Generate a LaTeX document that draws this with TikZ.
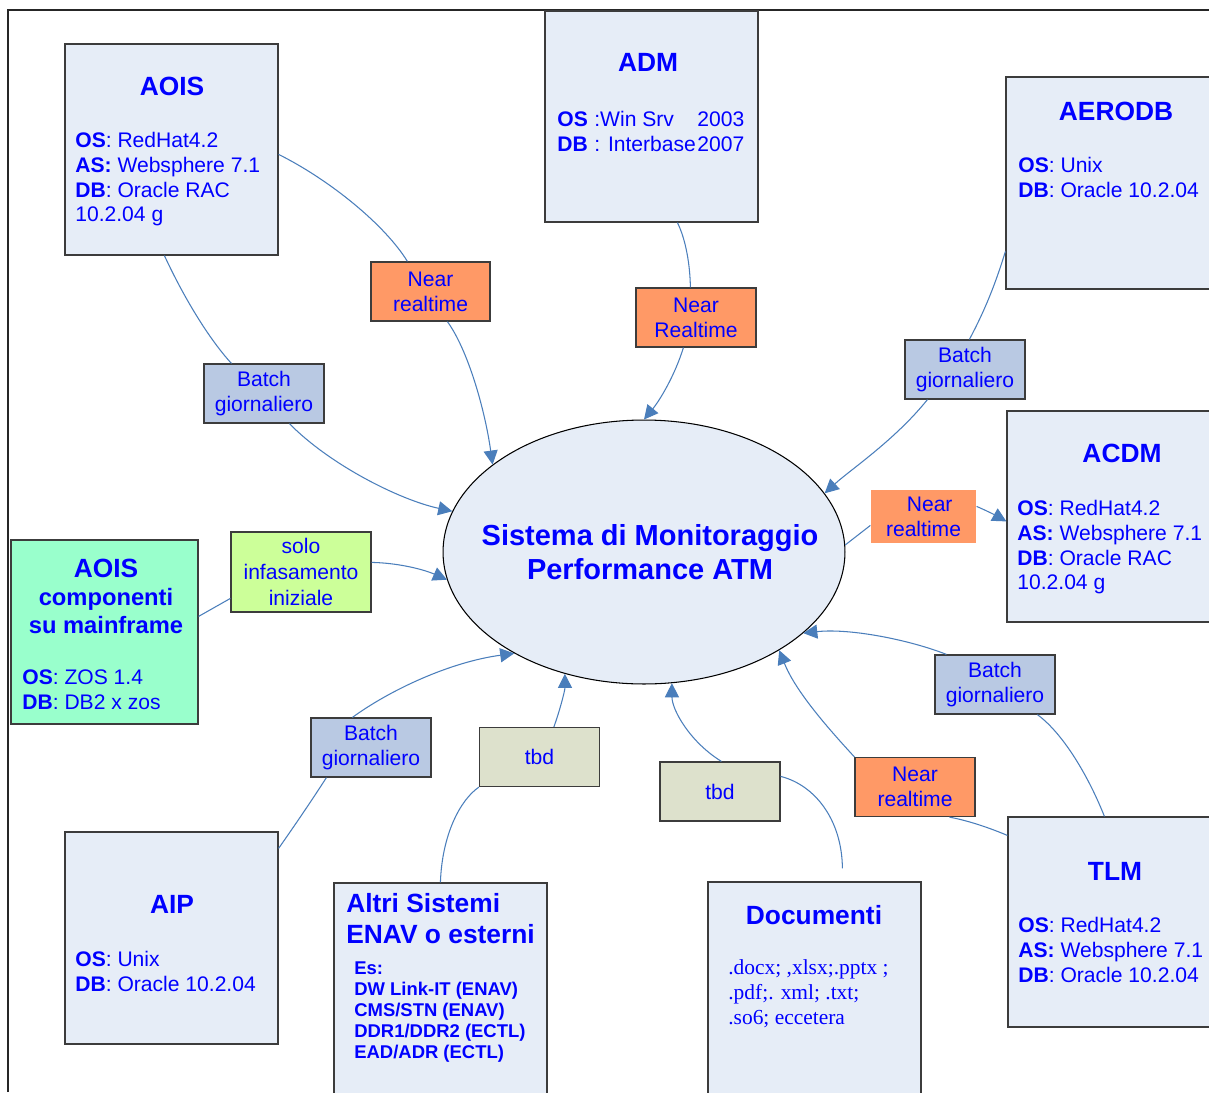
\documentclass[tikz,border=0pt]{standalone}
\usepackage{fontspec}
\setmainfont{Liberation Sans}
\newfontfamily\docserif{Liberation Serif}
\usetikzlibrary{arrows.meta,shapes.geometric,calc}
\definecolor{boxfill}{RGB}{230,237,247}
\definecolor{mffill}{RGB}{153,255,204}
\definecolor{orangefill}{RGB}{255,153,102}
\definecolor{batchfill}{RGB}{185,201,227}
\definecolor{solofill}{RGB}{204,255,153}
\definecolor{tbdfill}{RGB}{221,225,204}
\definecolor{linec}{RGB}{74,126,187}
\definecolor{txtblue}{RGB}{0,0,255}
\definecolor{bordc}{RGB}{60,60,60}
\begin{document}
\begin{tikzpicture}[x=0.02cm,y=-0.02cm,
  sysbox/.style={draw=bordc, line width=0.7pt, fill=boxfill, inner sep=0pt, minimum width=4.26cm, minimum height=4.22cm},
  lbl/.style={draw=bordc, line width=0.7pt, inner sep=0pt, minimum width=2.4cm, minimum height=1.18cm, align=center, text=txtblue, font=\fontsize{12}{14.2}\selectfont},
  nearlbl/.style={lbl, fill=orangefill},
  batchlbl/.style={lbl, fill=batchfill},
  tbdlbl/.style={lbl, fill=tbdfill},
  ttl/.style={text=txtblue, inner sep=0pt, font=\fontsize{15}{17.6}\bfseries\selectfont},
  body/.style={text=txtblue, inner sep=0pt, anchor=north west, align=left, font=\fontsize{12}{14.2}\selectfont},
  conn/.style={draw=linec, line width=0.6pt},
  arr/.style={conn, -{Triangle[length=8pt,width=8pt]}}
]
\clip (0,0) rectangle (1209,1092);
\fill[white] (0,0) rectangle (1209,1092);
% frame
\draw[black!85, line width=0.6pt] (8,1092) -- (8,10) -- (1209,10);

% system boxes
\node[sysbox] (aois) at (171.5,149.5) {};
\node[sysbox] (adm) at (651.5,116.5) {};
\node[sysbox, minimum height=4.24cm] (aerodb) at (1112.5,183) {};
\node[sysbox] (acdm) at (1113.5,516.5) {};
\node[sysbox, fill=mffill, minimum width=3.74cm, minimum height=3.68cm] (mf) at (104.5,632) {};
\node[sysbox, minimum height=4.24cm] (aip) at (171.5,938) {};
\node[sysbox, minimum height=4.24cm] (altri) at (440.5,989) {};
\node[sysbox, minimum height=4.24cm] (doc) at (814.5,988) {};
\node[sysbox, minimum height=4.2cm] (tlm) at (1114.5,922) {};

% central ellipse
\node[ellipse, draw=black, line width=0.6pt, fill=boxfill, inner sep=0pt, minimum width=8.04cm, minimum height=5.28cm] (core) at (644,552) {};
\node[text=txtblue, align=center, inner sep=0pt, font=\fontsize{16.5}{19.3}\bfseries\selectfont] (coretxt) at (650,552) {Sistema di Monitoraggio\\Performance ATM};

% titles
\node[ttl] (aoisT) at (172,86) {AOIS};
\node[ttl] (admT) at (648,62) {ADM};
\node[ttl] (aerodbT) at (1116,111) {AERODB};
\node[ttl] (acdmT) at (1122,453) {ACDM};
\node[ttl] (aipT) at (172,904) {AIP};
\node[ttl] (tlmT) at (1115,871) {TLM};
\node[ttl] (docT) at (814,915) {Documenti};
\node[ttl, anchor=base] (mfT1) at (106,577.5) {AOIS};
\node[ttl, anchor=base, font=\fontsize{13.5}{16}\bfseries\selectfont] (mfT2) at (106,605.5) {componenti};
\node[ttl, anchor=base, font=\fontsize{13.5}{16}\bfseries\selectfont] (mfT3) at (106,633.5) {su mainframe};
\node[ttl, anchor=north west, align=left] (altriT) at (346,893.5) {Altri Sistemi\\ENAV o esterni};

% bodies
\node[body] (aoisB) at (75,131.5) {\textbf{OS}: RedHat4.2\\\textbf{AS:} Websphere 7.1\\\textbf{DB}: Oracle RAC\\10.2.04 g};
\node[body, anchor=base west] (admOS) at (557,126.5) {\textbf{OS}};
\node[body, anchor=base west] (admOSv) at (594,126.5) {:Win Srv};
\node[body, anchor=base west] (admOSy) at (697,126.5) {2003};
\node[body, anchor=base west] (admDB) at (557,151.5) {\textbf{DB}};
\node[body, anchor=base west] (admDBv) at (594,151.5) {: Interbase};
\node[body, anchor=base west] (admDBy) at (697,151.5) {2007};
\node[body] (aerodbB) at (1018,156.5) {\textbf{OS}: Unix\\\textbf{DB}: Oracle 10.2.04};
\node[body] (acdmB) at (1017,499.5) {\textbf{OS}: RedHat4.2\\\textbf{AS:} Websphere 7.1\\\textbf{DB}: Oracle RAC\\10.2.04 g};
\node[body] (mfB) at (22,669.5) {\textbf{OS}: ZOS 1.4\\\textbf{DB}: DB2 x zos};
\node[body] (aipB) at (75,950.5) {\textbf{OS}: Unix\\\textbf{DB}: Oracle 10.2.04};
\node[body] (tlmB) at (1018,916.5) {\textbf{OS}: RedHat4.2\\\textbf{AS:} Websphere 7.1\\\textbf{DB}: Oracle 10.2.04};
\begin{scope}
\clip (334,880) rectangle (547,1061);
\node[body, font=\fontsize{10.5}{11.9}\bfseries\selectfont] (altriB) at (354,961.4) {Es:\\DW Link-IT (ENAV)\\CMS/STN (ENAV)\\DDR1/DDR2 (ECTL)\\EAD/ADR (ECTL)};
\end{scope}
\node[body, font=\docserif\fontsize{12.2}{14.2}\selectfont] (docB) at (728,959) {.docx; ,xlsx;.pptx ;\\.pdf;. xml; .txt;\\.so6; eccetera};

% labels
\node[nearlbl, minimum width=2.38cm] (nrAois) at (430.5,291.5) {Near\\realtime};
\node[batchlbl] (bAois) at (264,393.5) {Batch\\giornaliero};
\node[nearlbl] (nrAdm) at (696,317.5) {Near\\Realtime};
\node[batchlbl] (bAero) at (965,369.5) {Batch\\giornaliero};
\node[nearlbl, draw=none, minimum width=2.1cm, minimum height=1.06cm] (nrAcdm) at (923.5,516.5) {\hspace*{7pt}Near\\realtime};
\node[lbl, fill=solofill, minimum width=2.8cm, minimum height=1.6cm, font=\fontsize{12}{14.8}\selectfont] (solo) at (301,572) {solo\\infasamento\\iniziale};
\node[batchlbl] (bAip) at (371,747.5) {Batch\\giornaliero};
\node[tbdlbl] (tbdA) at (539.5,757) {tbd};
\node[tbdlbl] (tbdB) at (720,791.5) {tbd};
\node[batchlbl] (bTlm) at (995,684.5) {Batch\\giornaliero};
\node[nearlbl] (nrTlm) at (915,787) {Near\\realtime};

\coordinate (docTop) at ($(doc.north west)+(135,-13)$);

% connectors
\draw[conn] ($(aois.north east)+(0,111)$) .. controls (330,180) and (385,225) .. ($(nrAois.north west)+(37,0)$);
\draw[arr] ($(nrAois.south west)+(77,0)$) .. controls (468,350) and (485,410) .. (core.150.4);
\draw[conn] ($(aois.south west)+(100,0)$) .. controls (185,300) and (210,340) .. ($(bAois.north west)+(28,0)$);
\draw[arr] ($(bAois.south west)+(86,0)$) .. controls (330,465) and (400,500) .. (core.168);
\draw[conn] ($(adm.south west)+(133,0)$) .. controls (686,240) and (690,265) .. ($(nrAdm.north west)+(55,0)$);
\draw[arr] ($(nrAdm.south west)+(48,0)$) .. controls (675,375) and (660,400) .. (core.90);
\draw[conn] ($(aerodb.north west)+(0,175)$) .. controls (995,285) and (985,310) .. ($(bAero.north west)+(65,0)$);
\draw[arr] ($(bAero.south west)+(23,0)$) .. controls (895,440) and (850,470) .. (core.18.8);
\draw[conn] (core.2.6) -- ($(nrAcdm.north west)+(0,36)$);
\draw[arr] ($(nrAcdm.north east)+(0,17)$) .. controls (985,510) and (995,515) .. ($(acdm.north west)+(0,111)$);
\draw[conn] ($(mf.north east)+(0,77)$) -- ($(solo.north west)+(0,67)$);
\draw[arr] ($(solo.north east)+(0,31)$) .. controls (400,563) and (425,570) .. (core.188.1);
\draw[conn] ($(aip.north east)+(0,17)$) .. controls (295,825) and (312,800) .. ($(bAip.south west)+(16,0)$);
\draw[arr] ($(bAip.north west)+(42,0)$) .. controls (390,690) and (450,662) .. (core.218);
\draw[conn] ($(altri.north west)+(107,0)$) .. controls (442,835) and (460,800) .. (tbdA.south west);
\draw[arr] ($(tbdA.north west)+(75,0)$) .. controls (560,710) and (565,690) .. (core.237.6);
\draw[conn] (docTop) .. controls (842,820) and (815,785) .. ($(tbdB.north east)+(0,15)$);
\draw[arr] ($(tbdB.north west)+(62,0)$) .. controls (690,742) and (672,710) .. (core.282.7);
\draw[conn] ($(tlm.north west)+(0,19)$) .. controls (985,826) and (965,820) .. ($(nrTlm.south west)+(95,0)$);
\draw[arr] (nrTlm.north west) .. controls (825,725) and (795,690) .. (core.324.6);
\draw[conn] ($(tlm.north west)+(97,0)$) .. controls (1090,780) and (1065,735) .. ($(bTlm.south west)+(103,0)$);
\draw[arr] ($(bTlm.north west)+(12,0)$) .. controls (910,640) and (850,628) .. (core.333.9);
\end{tikzpicture}
\end{document}
